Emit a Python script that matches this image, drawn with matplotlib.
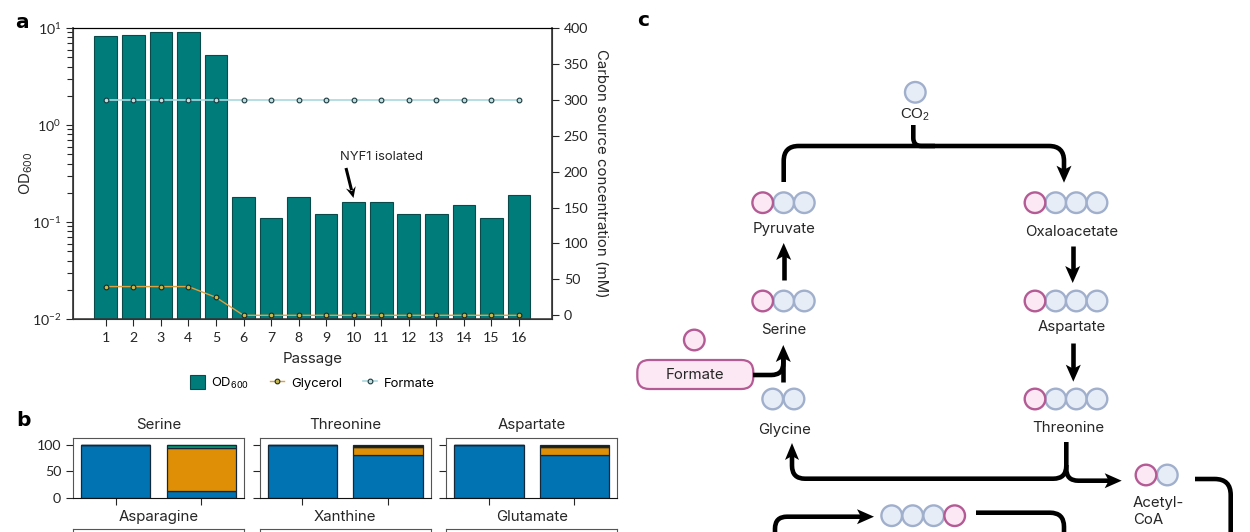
import matplotlib
matplotlib.use("Agg")
import matplotlib.pyplot as plt
from matplotlib.patches import Circle, FancyBboxPatch, PathPatch, Polygon
from matplotlib.path import Path
import numpy as np

plt.rcParams['font.family'] = ['Lato', 'DejaVu Sans']
plt.rcParams['mathtext.default'] = 'regular'
plt.rcParams['axes.unicode_minus'] = False

# data panel a
passages = [1, 2, 3, 4, 5, 6, 7, 8, 9, 10, 11, 12, 13, 14, 15, 16]
od600 = [8.2, 8.4, 9.0, 9.0, 5.3, 0.18, 0.11, 0.18, 0.12, 0.16, 0.16, 0.12, 0.12, 0.15, 0.11, 0.19]
glycerol = [40, 40, 40, 40, 25, 0, 0, 0, 0, 0, 0, 0, 0, 0, 0, 0]
formate = [300, 300, 300, 300, 300, 300, 300, 300, 300, 300, 300, 300, 300, 300, 300, 300]

# data panel b, two bars per amino acid
top_titles = ['Serine', 'Threonine', 'Aspartate']
low_titles = ['Asparagine', 'Xanthine', 'Glutamate']
blue_vals = [[100, 13], [100, 81], [100, 80]]
orange_vals = [[0, 80], [0, 14], [0, 16]]
green_vals = [[0, 6], [0, 0], [0, 0]]
dark_vals = [[0, 1], [0, 5], [0, 4]]

W, H = 1250, 532
TEAL = '#007c7a'
DARK = '#262626'
MAG_E, MAG_F = '#b45a94', '#fbe8f4'
BLU_E, BLU_F = '#a0afcc', '#e6edf7'
FS = 10.2   # tick numbers
LS = 10.8   # words, in Inter
WORD = ['Inter', 'DejaVu Sans']


def box(x0, y0, x1, y1):
    # pixel box (y from the top) to figure fractions
    return [x0 / W, 1 - y1 / H, (x1 - x0) / W, (y1 - y0) / H]


fig = plt.figure(figsize=(12.5, 5.32), dpi=100)

# panel a
ax = fig.add_axes(box(73, 28, 552, 319))
bars = ax.bar(passages, od600, width=0.82, bottom=0.001, color=TEAL, edgecolor='#0b4a4a', linewidth=0.8)
ax.set_yscale('log')
ax.set_ylim(0.01, 10)
ax.set_xlim(-0.19, 17.2)
ax.set_xticks(passages)
ax.tick_params(axis='both', which='major', labelsize=FS, length=5, width=0.8, color=DARK, labelcolor=DARK)
ax.tick_params(axis='y', which='minor', length=4, width=0.8, color=DARK)
ax.tick_params(axis='x', pad=4)
ax.set_xlabel('Passage', fontsize=LS, color=DARK, labelpad=6, family=WORD)
ax.set_ylabel('OD$_{600}$', fontsize=LS, color=DARK, labelpad=-2, family=WORD)

ax2 = ax.twinx()
ax2.set_ylim(-5.15, 400)
ax2.set_yticks([0, 50, 100, 150, 200, 250, 300, 350, 400])
ax2.tick_params(axis='y', labelsize=FS, length=5, width=0.8, color=DARK, labelcolor=DARK)
line1, = ax2.plot(passages, glycerol, color='#dfa040', lw=1.0, marker='o', ms=3.4,
                  mfc='#c8b850', mec='#1a2a20', mew=0.8)
line2, = ax2.plot(passages, formate, color='#a9d8de', lw=1.2, marker='o', ms=3.4,
                  mfc='#c4dfe0', mec='#1a3a40', mew=0.8)
ax2.set_ylabel('Carbon source concentration (mM)', rotation=270, fontsize=LS, color=DARK, labelpad=14, family=WORD)
for s in ['left', 'right', 'bottom']:
    ax2.spines[s].set_color('#333333')
    ax.spines[s].set_color('#333333')
ax2.spines['right'].set_linewidth(1.2)
ax.spines['left'].set_linewidth(1.2)
ax2.spines['bottom'].set_linewidth(1.1)
ax2.spines['top'].set_color('black')

ax2.legend([bars, line1, line2], ['OD$_{600}$', 'Glycerol', 'Formate'], ncol=3, frameon=False,
           loc='center', bbox_to_anchor=(312.5 / W, 1 - 383 / H), bbox_transform=fig.transFigure,
           prop={'family': WORD, 'size': 9.4}, handlelength=1.1, handleheight=1.3,
           columnspacing=1.6, handletextpad=0.5)

# panel b
lefts = [(73, 244), (259.5, 430.7), (446, 617.3)]
for i, (x0, x1) in enumerate(lefts):
    a = fig.add_axes(box(x0, 437.7, x1, 498.3))
    xs = [0, 1]
    bottom = np.zeros(2)
    for vals, col in zip([blue_vals[i], orange_vals[i], green_vals[i], dark_vals[i]],
                         ['#0173b2', '#de8f05', '#029e73', '#1c1c10']):
        a.bar(xs, vals, bottom=bottom, width=0.81, color=col, edgecolor='#14283a', linewidth=0.9)
        bottom = bottom + np.array(vals)
    a.set_xlim(-0.5, 1.5)
    a.set_ylim(0, 113)
    a.set_yticks([0, 50, 100])
    a.set_xticks(xs)
    a.set_xticklabels([])
    a.tick_params(length=5, width=0.8, color=DARK, labelsize=FS, labelcolor=DARK)
    if i > 0:
        a.set_yticklabels([])
    for s in ['left', 'right', 'top']:
        a.spines[s].set_color('#555555')
    a.spines['bottom'].set_color('#111111')
    a.set_title(top_titles[i], fontsize=LS, color=DARK, pad=6, family=WORD)
    # second row runs off the bottom of the picture
    b = fig.add_axes(box(x0, 529.3, x1, 590))
    b.set_xticks([])
    b.set_yticks([])
    for s in b.spines.values():
        s.set_color('#555555')
    b.set_title(low_titles[i], fontsize=LS, color=DARK, pad=6, family=WORD)

# overlay in pixel coordinates for letters and pathway (panel c)
ov = fig.add_axes([0, 0, 1, 1])
ov.set_xlim(0, W)
ov.set_ylim(H, 0)
ov.axis('off')
ov.patch.set_alpha(0)

for txt, x, y in [('a', 22, 22), ('b', 23, 420), ('c', 643, 21)]:
    ov.text(x, y, txt, fontsize=14.5, fontweight='bold', family='DejaVu Sans', ha='center', va='center', color='black')


def rounded(points, r):
    # polyline with rounded corners
    verts = [points[0]]
    codes = [Path.MOVETO]
    for k in range(1, len(points) - 1):
        p0, p1, p2 = [np.array(q, dtype=float) for q in points[k - 1:k + 2]]
        d1 = (p0 - p1) / np.linalg.norm(p0 - p1)
        d2 = (p2 - p1) / np.linalg.norm(p2 - p1)
        verts += [tuple(p1 + d1 * r), tuple(p1), tuple(p1 + d2 * r)]
        codes += [Path.LINETO, Path.CURVE3, Path.CURVE3]
    verts.append(points[-1])
    codes.append(Path.LINETO)
    return Path(verts, codes)


def pipe(points, r=14, lw=3.3):
    ov.add_patch(PathPatch(rounded(points, r), fc='none', ec='black', lw=lw, capstyle='butt', joinstyle='round'))


def head(tip, direction, length=17, half=7.5):
    d = np.array(direction, dtype=float)
    n = np.array([-d[1], d[0]])
    t = np.array(tip, dtype=float)
    base = t - d * length
    ov.add_patch(Polygon([t, base + n * half, base + d * 4, base - n * half], fc='black', ec='none'))


def circles(xs, y, pink=(), r=10.3):
    for k, x in enumerate(xs):
        e, f = (MAG_E, MAG_F) if k in pink else (BLU_E, BLU_F)
        ov.add_patch(Circle((x, y), r, fc=f, ec=e, lw=1.7, zorder=3 if k in pink else 2))


def label(txt, x, y, size=LS):
    ov.text(x, y, txt, fontsize=size, ha='center', va='center', color=DARK, family=WORD)


# nodes
circles([915.3], 92.3)
ov.text(915, 115, 'CO$_2$', fontsize=LS, ha='center', va='center', color=DARK, family=['Liberation Sans'])
circles([762.7, 783.7, 804.3], 202.7, pink=[0])
label('Pyruvate', 784, 229)
circles([1035, 1055.7, 1076.3, 1097], 202.7, pink=[0])
label('Oxaloacetate', 1071.5, 231.5)
circles([762.7, 783.7, 804.3], 301, pink=[0])
label('Serine', 784, 330.5)
circles([1035, 1055.7, 1076.3, 1097], 301, pink=[0])
label('Aspartate', 1071.5, 327.5)
circles([772.7, 794], 399)
label('Glycine', 784.5, 430)
circles([1035, 1055.7, 1076.3, 1097], 399, pink=[0])
label('Threonine', 1068, 428.5)
circles([694.3], 340, pink=[0])
ov.add_patch(FancyBboxPatch((649.3, 372), 92, 5, boxstyle='round,pad=12', fc=MAG_F, ec=MAG_E, lw=1.6))
label('Formate', 694.5, 375)
circles([1146, 1167.3], 475, pink=[0])
ov.text(1133, 503, 'Acetyl-', fontsize=LS, ha='left', va='center', color=DARK, family=WORD)
ov.text(1133, 520.5, 'CoA', fontsize=LS, ha='left', va='center', color=DARK, family=WORD)
circles([891.7, 912.7, 933.7, 954.7], 515.7, pink=[3])

# arrows
pipe([(783.7, 182), (783.7, 146), (1064, 146), (1064, 170)], r=15)
head((1064, 182.7), (0, 1))
pipe([(913.3, 125), (913.3, 146), (935, 146)], r=8)
pipe([(783.7, 280), (783.7, 255)])
head((783.7, 243), (0, -1))
pipe([(1072.7, 246), (1072.7, 272)])
head((1072.7, 283), (0, 1))
pipe([(1073.3, 342.7), (1073.3, 370)])
head((1073.3, 381.7), (0, 1))
pipe([(783.3, 381.7), (783.3, 355)])
head((783.3, 345), (0, -1))
pipe([(753, 375), (783.3, 375), (783.3, 358)], r=12)
pipe([(1066.3, 442), (1066.3, 478.7), (792, 478.7), (792, 455)], r=13)
head((792, 443), (0, -1), length=17, half=7)
pipe([(1066.3, 465), (1066.3, 480.7), (1110, 480.7)], r=12)
head((1121.7, 480.7), (1, 0))
pipe([(1195, 479), (1230.7, 479), (1230.7, 540)], r=16)
pipe([(775, 540), (775, 516.7), (862, 516.7)], r=12)
head((874, 516.7), (1, 0))
pipe([(976, 512.7), (1064, 512.7), (1064, 540)], r=14)

# NYF1 label and arrow on panel a
ov.text(382, 156.5, 'NYF1 isolated', fontsize=9.4, ha='center', va='center', color=DARK, family=WORD)
d = np.array([7.5, 30.0])
d = d / np.linalg.norm(d)
pipe([(346, 168), tuple(np.array((353.5, 198)) - d * 8)], lw=2.2)
head((353.5, 198), d, length=11, half=5)

fig.savefig('out.png', dpi=100)
